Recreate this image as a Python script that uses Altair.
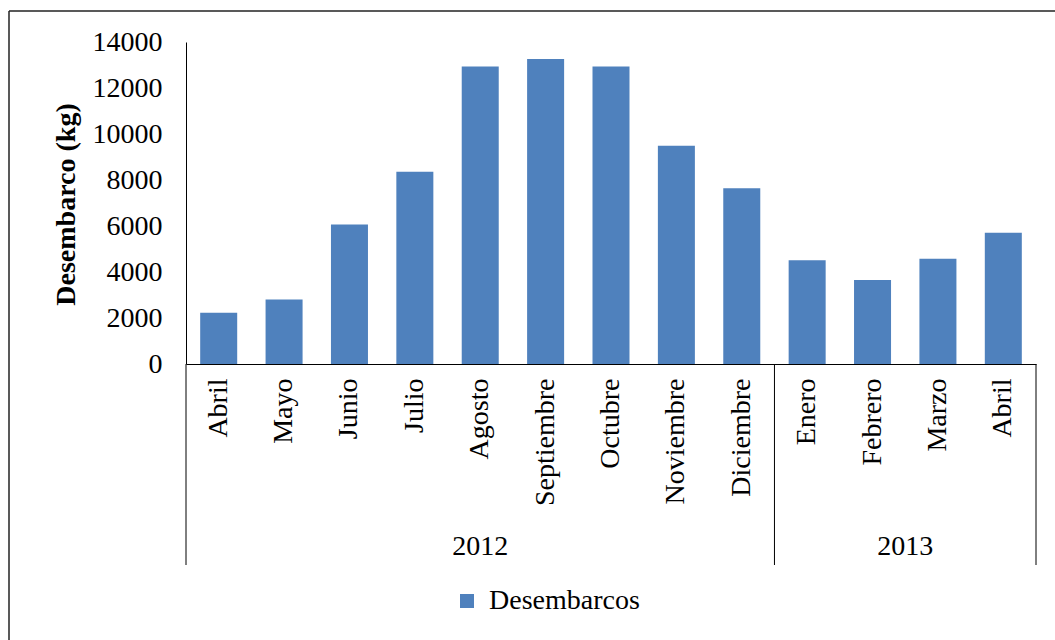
import altair as alt
import pandas as pd

# ---- data ----
years = ["2012", "2013"]
months_2012 = ["Abril", "Mayo", "Junio", "Julio", "Agosto", "Septiembre",
               "Octubre", "Noviembre", "Diciembre"]
months_2013 = ["Enero", "Febrero", "Marzo", "Abril"]
values_2012 = [2230, 2800, 6060, 8360, 12930, 13260, 12930, 9490, 7640]
values_2013 = [4510, 3650, 4580, 5710]
series_name = "Desembarcos"
y_ticks = [0, 2000, 4000, 6000, 8000, 10000, 12000, 14000]

month_groups = [months_2012, months_2013]
value_groups = [values_2012, values_2013]

rows = []
for yr, ms, vs in zip(years, month_groups, value_groups):
    for m, v in zip(ms, vs):
        rows.append({"key": f"{yr}|{m}", "year": yr, "month": m, "value": v, "serie": series_name})
df = pd.DataFrame(rows)
keys = list(df["key"])

# year boundaries / centers on a 0..N category-count scale
n_total = len(keys)
bounds = [0]
for ms in month_groups:
    bounds.append(bounds[-1] + len(ms))
sep_df = pd.DataFrame({"pos": bounds})
year_df = pd.DataFrame({
    "year": years,
    "mid": [(bounds[i] + bounds[i + 1]) / 2 for i in range(len(years))],
})

FONT = "Liberation Serif"
W, H = 850, 322
PAD_L, PAD_T = 186, 42
BLUE = "#4F81BD"

bars = alt.Chart(df).mark_bar(color=BLUE).encode(
    x=alt.X("key:N", sort=keys, title=None,
            scale=alt.Scale(paddingInner=0.434, paddingOuter=0.217),
            axis=alt.Axis(labelExpr="split(datum.label, '|')[1]", labelAngle=270,
                          labelFont=FONT, labelFontSize=28, labelColor="black",
                          labelPadding=14, ticks=False, domainColor="black",
                          domainWidth=1, grid=False, labelOverlap=False)),
    y=alt.Y("value:Q", title="Desembarco (kg)",
            scale=alt.Scale(domain=[0, 14000], nice=False),
            axis=alt.Axis(values=y_ticks, format="d", labelFont=FONT, labelFontSize=28,
                          labelColor="black", labelPadding=24, ticks=False, grid=False,
                          domainColor="black", domainWidth=1,
                          titleFont=FONT, titleFontSize=28, titleFontWeight="bold",
                          titleColor="black", titleAngle=270, titleX=-120, titleY=162,
                          titleAlign="center", titleBaseline="middle")),
    color=alt.Color("serie:N", scale=alt.Scale(domain=[series_name], range=[BLUE]),
                    legend=alt.Legend(orient="none", legendX=267, legendY=545, title=None,
                                      symbolType="square", symbolSize=196,
                                      symbolStrokeWidth=0, labelFont=FONT,
                                      labelFontSize=28, labelColor="black",
                                      labelOffset=8, padding=0)),
)

seps = alt.Chart(sep_df).mark_rule(color="black", strokeWidth=1).encode(
    x=alt.X("pos:Q", scale=alt.Scale(domain=[0, n_total], nice=False), axis=None),
    y=alt.value(H),
    y2=alt.value(H + 201),
)

year_text = alt.Chart(year_df).mark_text(font=FONT, fontSize=28, color="black",
                                         baseline="middle", align="center").encode(
    x=alt.X("mid:Q", scale=alt.Scale(domain=[0, n_total], nice=False), axis=None),
    y=alt.value(505),
    text="year:N",
)

frame_top = alt.Chart(pd.DataFrame({"a": [0]})).mark_rule(color="#222", strokeWidth=1.5).encode(
    x=alt.value(9 - PAD_L), x2=alt.value(1060 - PAD_L), y=alt.value(11 - PAD_T)
)
frame_left = alt.Chart(pd.DataFrame({"a": [0]})).mark_rule(color="#222", strokeWidth=1.5).encode(
    x=alt.value(9 - PAD_L), y=alt.value(11 - PAD_T), y2=alt.value(650 - PAD_T)
)

chart = alt.layer(bars, seps, year_text, frame_top, frame_left).resolve_scale(
    x="independent"
).properties(
    width=W, height=H,
    autosize=alt.AutoSizeParams(type="none"),
    padding={"left": PAD_L, "top": PAD_T, "right": 1055 - PAD_L - W, "bottom": 640 - PAD_T - H},
    background="white",
).configure(font=FONT).configure_view(strokeWidth=0)

chart.save("out.html", embed_options={"renderer": "svg", "actions": False})
